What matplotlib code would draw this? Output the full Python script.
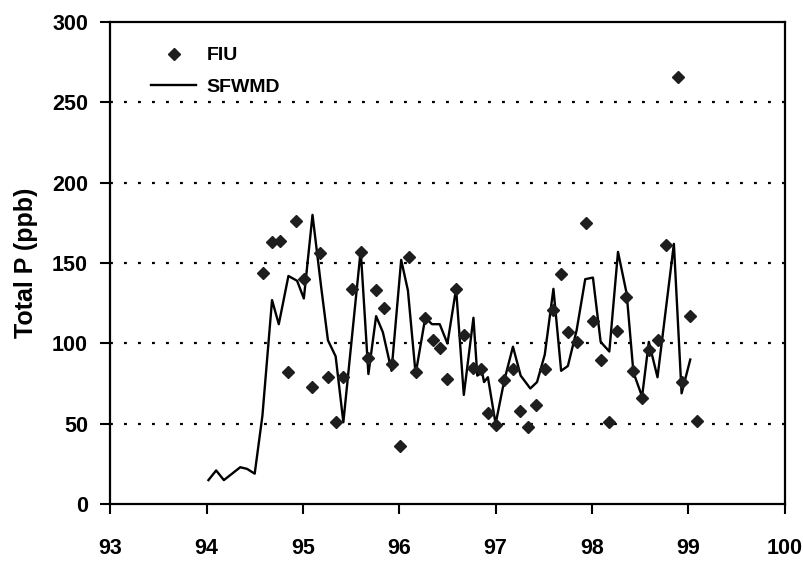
"""Total P (ppb): FIU grab samples vs SFWMD monthly record, 1994-1999."""
import matplotlib

matplotlib.use("Agg")
import matplotlib.pyplot as plt

plt.rcParams["font.family"] = ["Liberation Sans", "DejaVu Sans"]

# SFWMD series (decimal year, ppb)
sfwmd_year = [
    94.02, 94.10, 94.18, 94.35, 94.42, 94.50, 94.58, 94.68, 94.75, 94.85,
    94.94, 95.01, 95.10, 95.19, 95.26, 95.34, 95.42, 95.60, 95.68, 95.76,
    95.83, 95.92, 96.02, 96.09, 96.17, 96.27, 96.34, 96.42, 96.50, 96.59,
    96.67, 96.77, 96.81, 96.86, 96.88, 96.92, 97.00, 97.09, 97.18, 97.26,
    97.36, 97.43, 97.51, 97.60, 97.68, 97.75, 97.84, 97.93, 98.01, 98.09,
    98.18, 98.27, 98.36, 98.43, 98.52, 98.59, 98.68, 98.85, 98.93, 99.02,
]
sfwmd_tp = [
    15, 21, 15, 23, 22, 19, 55, 127, 112, 142,
    139, 128, 180, 135, 102, 92, 51, 158, 81, 117,
    107, 83, 152, 133, 81, 116, 112, 112, 100, 134,
    68, 116, 80, 82, 76, 79, 50, 77, 98, 80,
    72, 76, 93, 134, 83, 86, 108, 140, 141, 101,
    95, 157, 131, 82, 67, 101, 79, 162, 69, 90,
]

# FIU samples
fiu_year = [
    94.59, 94.68, 94.76, 94.85, 94.93, 95.01, 95.09, 95.18, 95.26, 95.34,
    95.42, 95.51, 95.60, 95.68, 95.76, 95.84, 95.92, 96.01, 96.10, 96.17,
    96.27, 96.35, 96.42, 96.50, 96.59, 96.67, 96.77, 96.85, 96.92, 97.00,
    97.09, 97.18, 97.25, 97.34, 97.42, 97.51, 97.60, 97.68, 97.75, 97.84,
    97.94, 98.01, 98.09, 98.18, 98.26, 98.35, 98.43, 98.52, 98.59, 98.68,
    98.77, 98.89, 98.93, 99.02, 99.09,
]
fiu_tp = [
    144, 163, 164, 82, 176, 140, 73, 156, 79, 51,
    79, 134, 157, 91, 133, 122, 87, 36, 154, 82,
    116, 102, 97, 78, 134, 105, 85, 84, 57, 49,
    77, 84, 58, 48, 62, 84, 121, 143, 107, 101,
    175, 114, 90, 51, 108, 129, 83, 66, 96, 102,
    161, 266, 76, 117, 52,
]

x_ticks = [93, 94, 95, 96, 97, 98, 99, 100]
y_ticks = [0, 50, 100, 150, 200, 250, 300]

fig = plt.figure(figsize=(8.04, 5.64), dpi=100)
ax = fig.add_axes([0.137, 0.106, 0.839, 0.855])

for y in y_ticks[1:-1]:
    ax.axhline(y, color="black", lw=1.6, ls=(0, (1.3, 5.0)), zorder=1)

ax.plot(fiu_year, fiu_tp, ls="none", marker="D", ms=6, color="#1e1e1e",
        label="FIU", zorder=3)
ax.plot(sfwmd_year, sfwmd_tp, color="black", lw=1.7, label="SFWMD", zorder=2)

ax.set_xlim(93, 100)
ax.set_ylim(0, 300)
ax.set_xticks(x_ticks)
ax.set_yticks(y_ticks)
ax.tick_params(direction="out", length=7, width=1.5, labelsize=15.5)
ax.tick_params(axis="x", pad=17)
ax.tick_params(axis="y", pad=9)
for lab in ax.get_xticklabels() + ax.get_yticklabels():
    lab.set_fontweight("bold")
for s in ax.spines.values():
    s.set_linewidth(1.6)

ax.set_ylabel("Total P (ppb)", fontsize=18, fontweight="bold", labelpad=10)

ax.legend(loc="upper left", bbox_to_anchor=(0.035, 0.985), frameon=False,
          handlelength=2.3, handletextpad=0.55, labelspacing=0.7,
          prop={"weight": "bold", "size": 14})

fig.savefig("out.png", dpi=100)
